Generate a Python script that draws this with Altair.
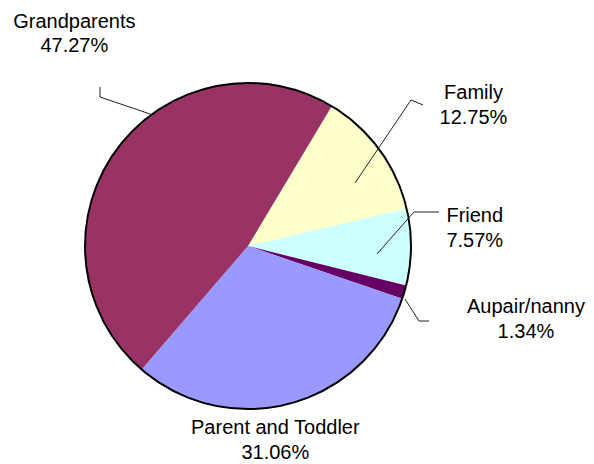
import math
import altair as alt
import pandas as pd

# ---- data -------------------------------------------------------------
categories = ["Family", "Friend", "Aupair/nanny", "Parent and Toddler", "Grandparents"]
percentages = [12.75, 7.57, 1.34, 31.06, 47.27]
colors = ["#FFFFCC", "#CCFFFF", "#660066", "#9999FF", "#993366"]

# ---- layout -----------------------------------------------------------
W, H = 578, 455          # plot area
CX, CY = 240, 238        # pie centre inside the plot area
R = 163                  # pie radius
START_DEG = 30.9         # first slice starts here (clockwise from 12 o'clock)

# label placement: (angle offset from slice mid-angle in degrees, distance from centre)
LABEL_PLACE = [(3.1, 269), (-6.4, 228), (-2.85, 286), (6.93, 190), (15.7, 279)]
# leader lines as offsets (dx, dy) from pie centre
LEADERS = {
    "Family": [(175, -141), (163, -146), (107, -63)],
    "Friend": [(191, -34), (166, -34), (129, 8)],
    "Aupair/nanny": [(181, 75), (171, 75), (157, 53)],
    "Grandparents": [(-148, -159), (-148, -149), (-95, -131)],
}

total = sum(percentages)
start = math.radians(START_DEG)

slices = pd.DataFrame({
    "category": categories,
    "value": percentages,
    "idx": list(range(len(categories))),
})

# label positions derived from the slice angles
rows = []
cum = 0.0
for cat, v, (dth, dist) in zip(categories, percentages, LABEL_PLACE):
    mid = START_DEG + (cum + v / 2) / total * 360.0
    cum += v
    a = math.radians(mid + dth)
    rows.append({
        "x": CX + dist * math.sin(a),
        "y": CY - dist * math.cos(a),
        "label": f"{cat}\n{v:.2f}%",
    })
labels = pd.DataFrame(rows)

lrows = []
for cat, pts in LEADERS.items():
    for i, (dx, dy) in enumerate(pts):
        lrows.append({"category": cat, "seq": i, "x": CX + dx, "y": CY + dy})
leaders = pd.DataFrame(lrows)

pie = alt.Chart(slices).mark_arc(radius=R).encode(
    theta=alt.Theta("value:Q", stack=True,
                    scale=alt.Scale(domain=[0, total], range=[start, start + 2 * math.pi])),
    order=alt.Order("idx:Q"),
    color=alt.Color("category:N", scale=alt.Scale(domain=categories, range=colors), legend=None),
    x=alt.value(CX),
    y=alt.value(CY),
)

outline = alt.Chart(pd.DataFrame({"k": [1]})).mark_arc(
    radius=R, theta=0, theta2=2 * math.pi, fillOpacity=0, stroke="black", strokeWidth=2
).encode(x=alt.value(CX), y=alt.value(CY))

leader_lines = alt.Chart(leaders).mark_line(color="#222222", strokeWidth=1).encode(
    x=alt.X("x:Q", scale=None, axis=None),
    y=alt.Y("y:Q", scale=None, axis=None),
    detail="category:N",
    order="seq:Q",
)

texts = alt.Chart(labels).mark_text(
    align="center", baseline="alphabetic", fontSize=20, font="Liberation Sans",
    lineBreak="\n", lineHeight=24.5, color="black"
).encode(
    x=alt.X("x:Q", scale=None, axis=None),
    y=alt.Y("y:Q", scale=None, axis=None),
    text="label:N",
)

chart = alt.layer(pie, outline, leader_lines, texts).properties(
    width=W, height=H, padding=0, autosize=alt.AutoSizeParams(type="none")
).configure_view(stroke=None)

chart.save("out.html", embed_options={"renderer": "svg", "actions": False})
